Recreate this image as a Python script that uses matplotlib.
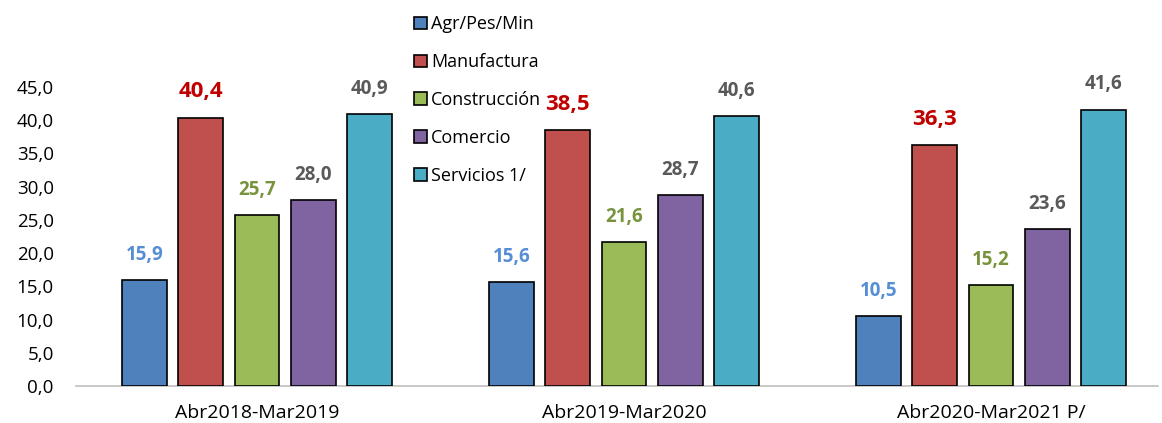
import matplotlib.pyplot as plt
import numpy as np

periods = ["Abr2018-Mar2019", "Abr2019-Mar2020", "Abr2020-Mar2021 P/"]
sectors = ["Agr/Pes/Min", "Manufactura", "Construcción", "Comercio", "Servicios 1/"]
agr = [15.9, 15.6, 10.5]
manufactura = [40.4, 38.5, 36.3]
construccion = [25.7, 21.6, 15.2]
comercio = [28.0, 28.7, 23.6]
servicios = [40.9, 40.6, 41.6]

series = [agr, manufactura, construccion, comercio, servicios]
colors = ["#4F81BD", "#C0504D", "#9BBB59", "#8064A2", "#4BACC6"]
label_colors = ["#558ED5", "#C00000", "#77933C", "#595959", "#595959"]
label_sizes = [13.5, 16, 13.5, 13.5, 13.5]

plt.rcParams['font.family'] = ['Open Sans', 'DejaVu Sans']

W, H = 1162, 423
fig = plt.figure(figsize=(W / 100, H / 100), dpi=100)
left_px, right_px, bottom_px, top_px = 76, 1158, 386, 87
ax = fig.add_axes([left_px / W, (H - bottom_px) / H,
                   (right_px - left_px) / W, (bottom_px - top_px) / H])

x = np.arange(len(periods))
step = 0.153
width = 0.122
for i, (vals, c) in enumerate(zip(series, colors)):
    pos = x + (i - 2) * step
    bars = ax.bar(pos, vals, width, color=c, edgecolor="black", linewidth=1.2,
                  label=sectors[i], zorder=3)
    for b, v in zip(bars, vals):
        ax.annotate(f"{v:.1f}".replace(".", ","),
                    (b.get_x() + b.get_width() / 2, v),
                    xytext=(0, 11), textcoords="offset points",
                    ha="center", va="bottom", color=label_colors[i],
                    fontsize=label_sizes[i], fontweight="bold")

ax.set_xlim(-(257 - left_px) / 367, (right_px - 257) / 367)
ax.set_ylim(0, 45)
ax.set_yticks(np.arange(0, 46, 5))
ax.set_yticklabels([f"{t:.1f}".replace(".", ",") for t in np.arange(0, 46, 5)],
                   fontsize=13.5)
ax.set_xticks(x)
ax.set_xticklabels(periods, fontsize=14)
ax.tick_params(axis="y", length=0, pad=16)
ax.tick_params(axis="x", length=0, pad=13)
for s in ["top", "right", "left"]:
    ax.spines[s].set_visible(False)
ax.spines["bottom"].set_color("#BFBFBF")
ax.spines["bottom"].set_linewidth(1.2)

leg = fig.legend(loc="upper left", bbox_to_anchor=(398 / W, 1 + 1 / H),
                 frameon=False, fontsize=13, handlelength=0.68,
                 handleheight=0.68, handletextpad=0.25, labelspacing=1.1)

fig.savefig("out.png", dpi=100)
